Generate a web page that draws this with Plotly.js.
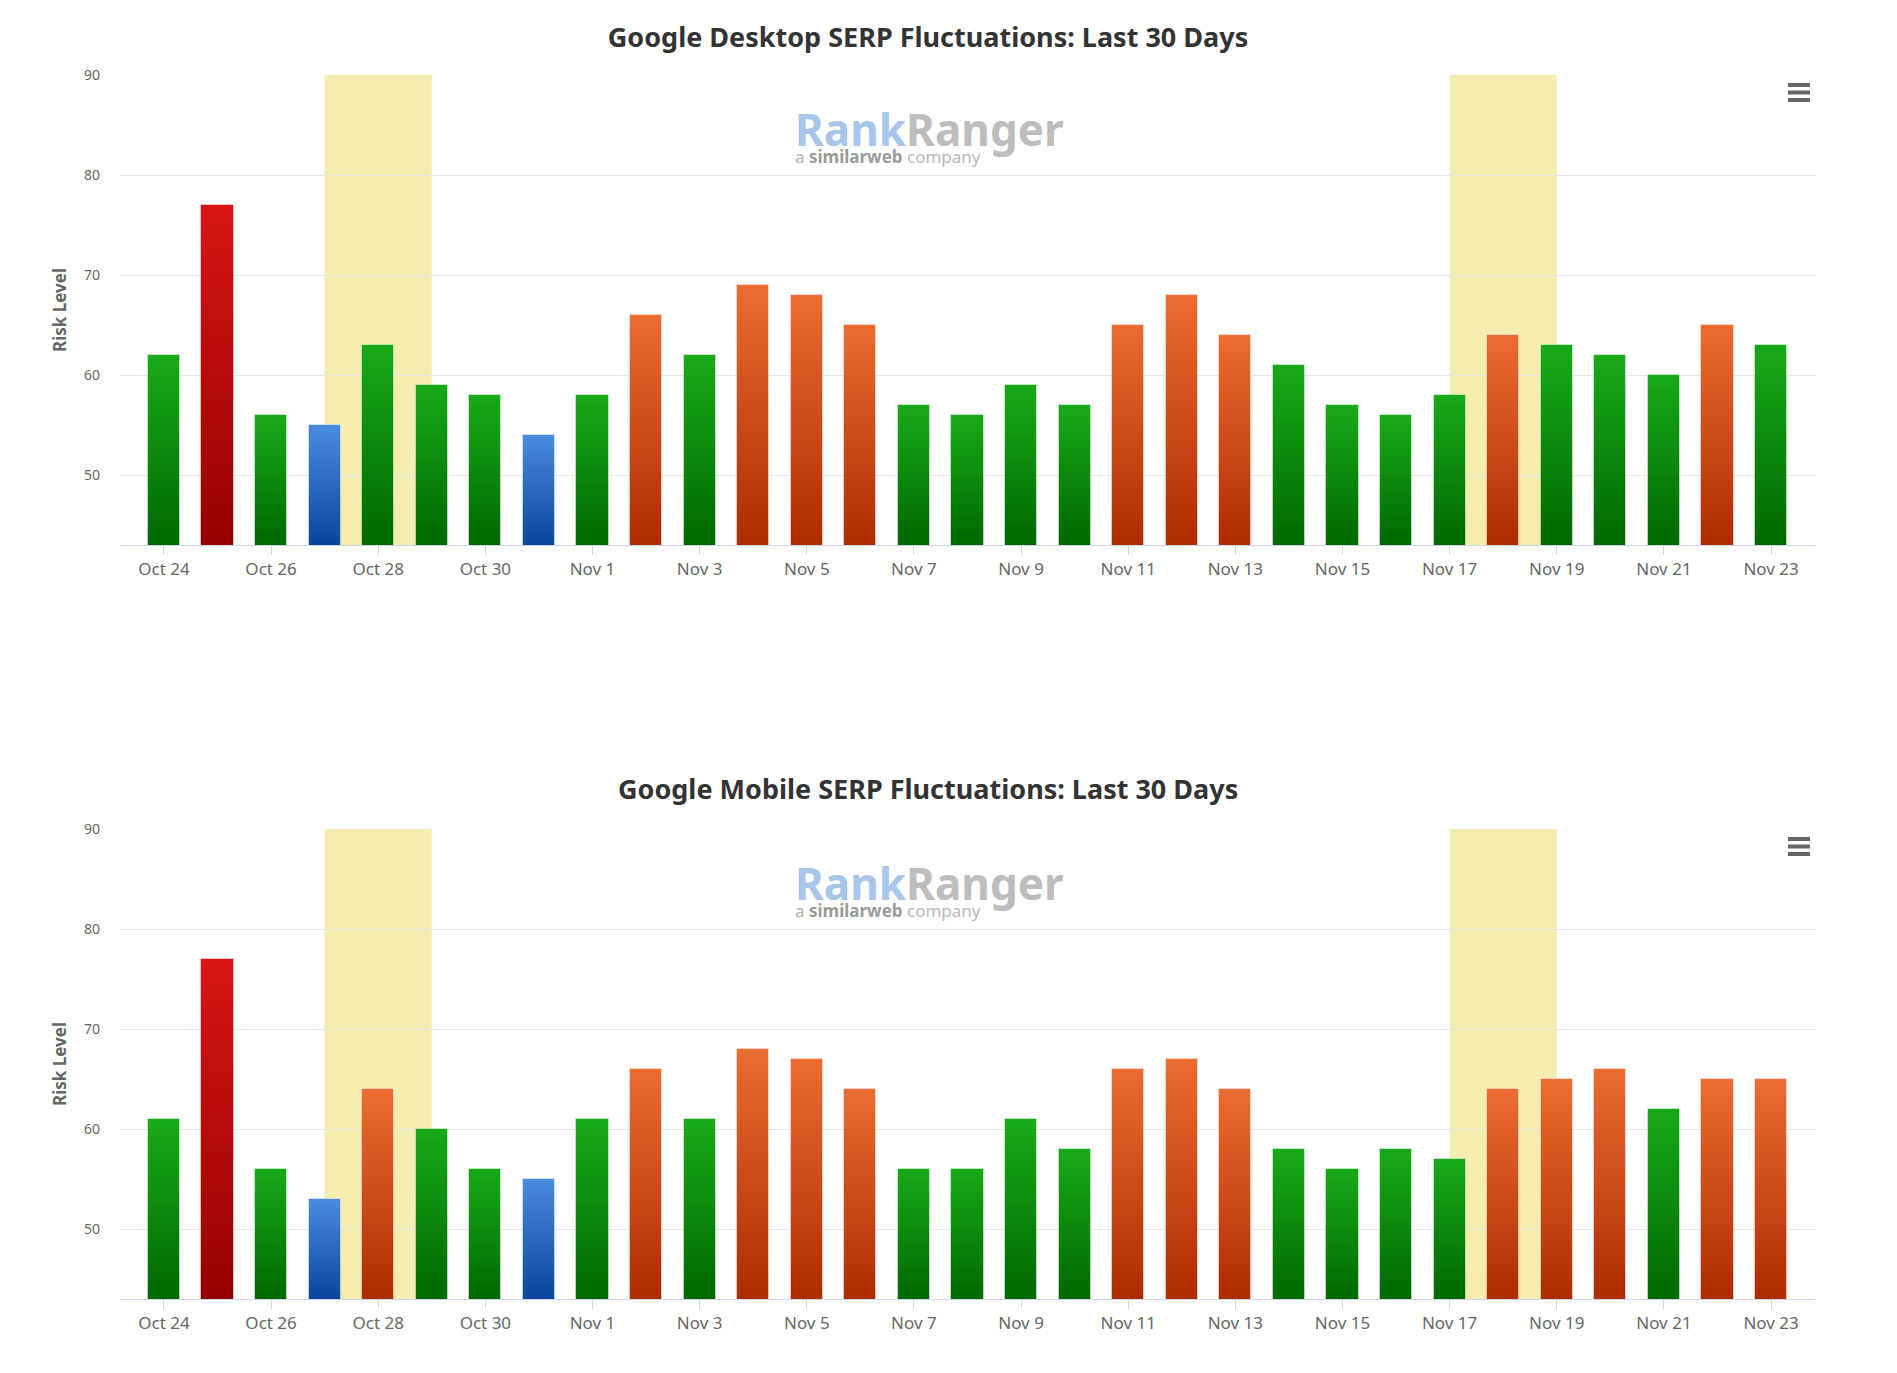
<!DOCTYPE html>
<html>
<head>
<meta charset="utf-8">
<script src="https://cdn.plot.ly/plotly-3.0.1.min.js"></script>
<style>
html,body{margin:0;padding:0;background:#ffffff;}
#chart{width:1897px;height:1373px;}
</style>
</head>
<body>
<div id="chart"></div>
<script>
// ---------- data ----------
const dates = ["Oct 24","Oct 25","Oct 26","Oct 27","Oct 28","Oct 29","Oct 30","Oct 31",
  "Nov 1","Nov 2","Nov 3","Nov 4","Nov 5","Nov 6","Nov 7","Nov 8","Nov 9","Nov 10",
  "Nov 11","Nov 12","Nov 13","Nov 14","Nov 15","Nov 16","Nov 17","Nov 18","Nov 19","Nov 20",
  "Nov 21","Nov 22","Nov 23"];
const tickLabels = ["Oct 24","Oct 26","Oct 28","Oct 30","Nov 1","Nov 3","Nov 5","Nov 7",
  "Nov 9","Nov 11","Nov 13","Nov 15","Nov 17","Nov 19","Nov 21","Nov 23"];
const desktopRisk = [62,77,56,55,63,59,58,54,58,66,62,69,68,65,57,56,59,57,65,68,64,61,57,56,58,64,63,62,60,65,63];
const mobileRisk  = [61,77,56,53,64,60,56,55,61,66,61,68,67,64,56,56,61,58,66,67,64,58,56,58,57,64,65,66,62,65,65];
const highlightDays = [["Oct 27","Oct 29"],["Nov 17","Nov 19"]];
const chartTitles = ["Google Desktop SERP Fluctuations: Last 30 Days","Google Mobile SERP Fluctuations: Last 30 Days"];
const yTicks = [50,60,70,80,90];
const yTitle = "Risk Level";

// ---------- styling ----------
const W = 1897, H = 1373;
const M = {l:120, r:82, t:75, b:74};
const PW = W - M.l - M.r, PH = H - M.t - M.b;
const plotH = 470;
const px2x = px => (px - M.l) / PW;
const px2y = py => (H - M.b - py) / PH;
const plotTops = [M.t, H - M.b - plotH];

const grads = {
  green:  ['#18aa18', '#006800'],
  red:    ['#d81616', '#940000'],
  orange: ['#ec6c32', '#ac2c00'],
  blue:   ['#4a8ce0', '#0a4698']
};
function riskClass(v){
  if (v >= 77) return 'red';
  if (v >= 64) return 'orange';
  if (v >= 56) return 'green';
  return 'blue';
}
const FONT = 'Noto Sans, Open Sans, sans-serif';

function barTrace(vals, xa, ya){
  return {
    type: 'bar', x: dates, y: vals, xaxis: xa, yaxis: ya,
    width: 0.6,
    marker: {color: vals.map(v => grads[riskClass(v)][0]),
             line: {color: 'rgba(255,255,255,0.45)', width: 1}},
    hoverinfo: 'x+y', showlegend: false
  };
}

function xAxis(anchor){
  return {
    type: 'category', anchor: anchor, domain: [0,1],
    range: [-0.82, dates.length - 1 + 0.82],
    tickmode: 'array', tickvals: tickLabels, ticktext: tickLabels,
    ticks: 'outside', ticklen: 9, tickwidth: 1, tickcolor: '#ccd6eb',
    showline: true, linecolor: '#ccd6eb', linewidth: 1,
    showgrid: false, zeroline: false,
    tickfont: {family: FONT, size: 17, color: '#666666'},
    fixedrange: true
  };
}
function yAxis(anchor, domain){
  return {
    anchor: anchor, domain: domain, range: [43, 90],
    tickmode: 'array', tickvals: yTicks,
    ticks: '', ticklabelstandoff: 19,
    showgrid: true, gridcolor: '#e6e6e6', gridwidth: 1,
    showline: false, zeroline: false,
    tickfont: {family: FONT, size: 14, color: '#666666'},
    title: {text: yTitle, standoff: 13, font: {family: FONT, size: 17, color: '#666666', weight: 'bold'}},
    fixedrange: true
  };
}

const shapes = [];
const annotations = [];
[['x','y'],['x2','y2']].forEach(([xa, ya], k) => {
  highlightDays.forEach(([a, b]) => {
    shapes.push({type:'rect', xref: xa, yref: ya + ' domain',
      x0: dates.indexOf(a), x1: dates.indexOf(b), y0: 0, y1: 1,
      fillcolor: 'rgba(235,217,97,0.5)', line: {width: 0}, layer: 'below'});
  });
  const top = plotTops[k];
  [10, 17.5, 25].forEach(d => {
    shapes.push({type:'line', xref:'paper', yref:'paper',
      x0: px2x(1788), x1: px2x(1810), y0: px2y(top + d), y1: px2y(top + d),
      line: {color: '#666666', width: 4}});
  });
  annotations.push({xref:'paper', yref:'paper', x: px2x(793), y: px2y(top + 58),
    xanchor:'left', yanchor:'middle', showarrow:false, align:'left',
    text: '<span style="font-size:44px;font-weight:bold"><span style="color:#a8c5ea">Rank</span><span style="color:#bdbdbd">Ranger</span></span>' +
          '<br><span style="font-size:17px"><span style="color:#b0b0b0">a </span><b><span style="color:#9a9a9a">similarweb</span></b><span style="color:#b8b8b8"> company</span></span>',
    font: {family: FONT, size: 13}});
});
annotations.push({xref:'paper', yref:'paper', x: px2x(928), y: px2y(789),
  xanchor:'center', yanchor:'middle', showarrow:false, text: chartTitles[1],
  font: {family: FONT, size: 27, color: '#333333', weight: 'bold'}});

const layout = {
  width: W, height: H, margin: M,
  paper_bgcolor: '#ffffff', plot_bgcolor: 'rgba(0,0,0,0)',
  title: {text: chartTitles[0], x: 928 / W, xref: 'container', xanchor: 'center',
          y: 1 - 38 / H, yref: 'container', yanchor: 'middle',
          font: {family: FONT, size: 27, color: '#333333', weight: 'bold'}},
  xaxis: xAxis('y'), yaxis: yAxis('x', [1 - plotH / PH, 1]),
  xaxis2: xAxis('y2'), yaxis2: yAxis('x2', [0, plotH / PH]),
  bargap: 0, shapes: shapes, annotations: annotations, showlegend: false
};

const series = [desktopRisk, mobileRisk];
function applyGradients(gd){
  const svg = gd.querySelector('svg.main-svg');
  const NS = 'http://www.w3.org/2000/svg';
  let defs = svg.querySelector('defs');
  if (!defs) { defs = document.createElementNS(NS, 'defs'); svg.insertBefore(defs, svg.firstChild); }
  const yAxes = [gd._fullLayout.yaxis, gd._fullLayout.yaxis2];
  const traces = gd.querySelectorAll('.barlayer .trace.bars');
  traces.forEach((tr, t) => {
    const vals = series[t];
    const bottom = yAxes[t]._length;
    tr.querySelectorAll('g.point').forEach((pt, i) => {
      const p = pt.querySelector('path');
      if (!p || vals[i] === undefined) return;
      const bb = p.getBBox();
      const cls = grads[riskClass(vals[i])];
      const id = 'rr-g-' + t + '-' + i;
      const lg = document.createElementNS(NS, 'linearGradient');
      lg.setAttribute('id', id);
      lg.setAttribute('gradientUnits', 'userSpaceOnUse');
      lg.setAttribute('x1', '0'); lg.setAttribute('x2', '0');
      lg.setAttribute('y1', String(bb.y)); lg.setAttribute('y2', String(bottom));
      [[0, cls[0]], [1, cls[1]]].forEach(([o, c]) => {
        const st = document.createElementNS(NS, 'stop');
        st.setAttribute('offset', o); st.setAttribute('stop-color', c);
        lg.appendChild(st);
      });
      defs.appendChild(lg);
      p.style.fill = 'url(#' + id + ')';
    });
  });
}
Plotly.newPlot('chart', [barTrace(desktopRisk,'x','y'), barTrace(mobileRisk,'x2','y2')], layout,
  {displayModeBar: false, responsive: false}).then(applyGradients);
</script>
</body>
</html>
